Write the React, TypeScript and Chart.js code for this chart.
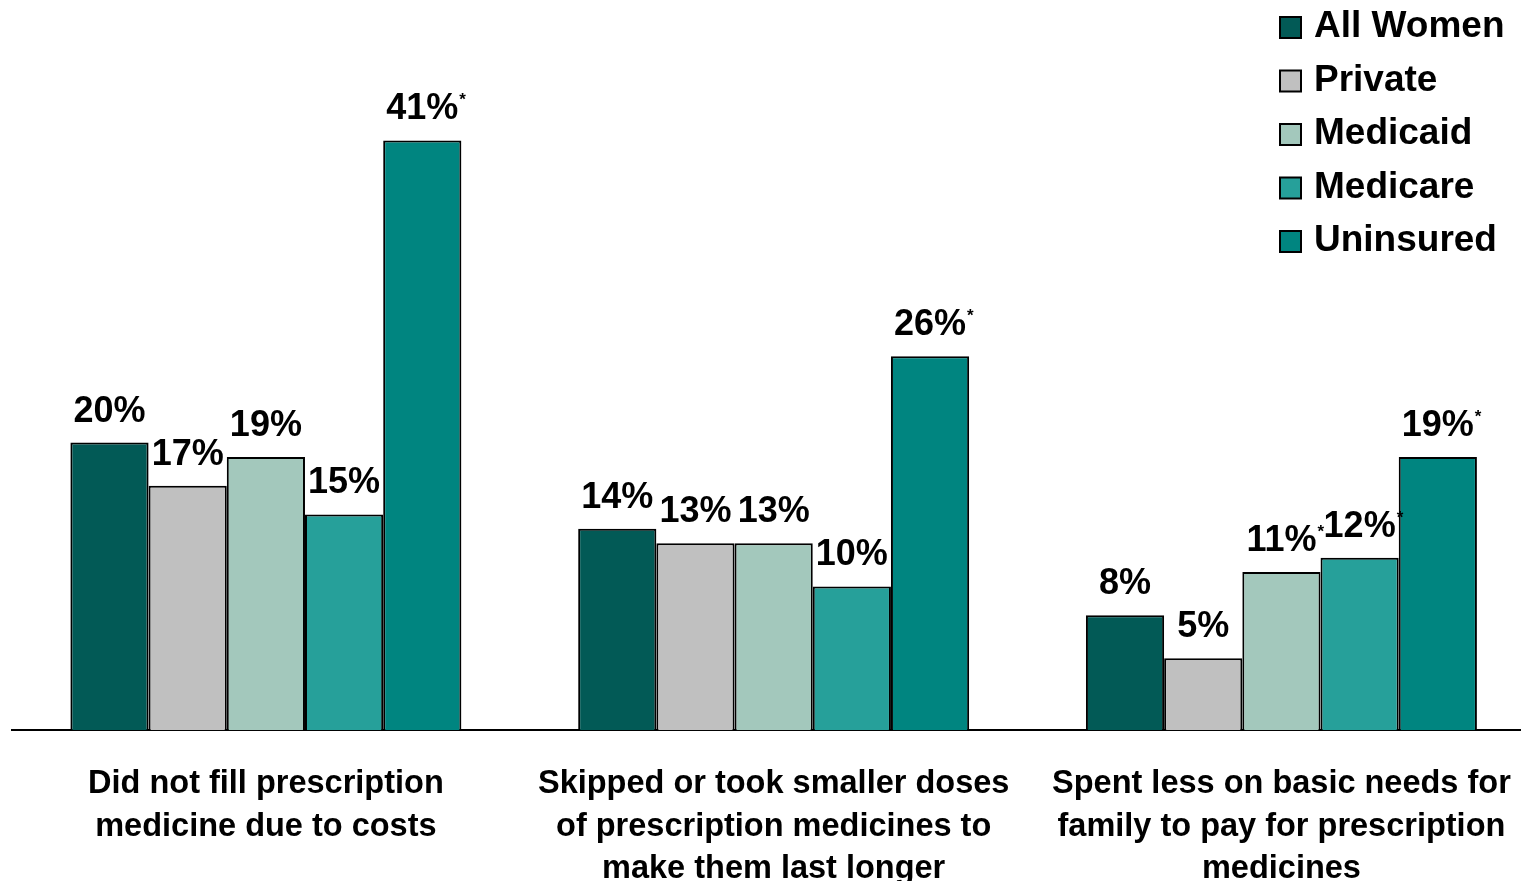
import React, { useEffect, useRef } from "react";
import { Chart, registerables } from "chart.js";

Chart.register(...registerables);

const categories: string[][] = [
  ["Did not fill prescription", "medicine due to costs"],
  ["Skipped or took smaller doses", "of prescription medicines to", "make them last longer"],
  ["Spent less on basic needs for", "family to pay for prescription", "medicines"],
];
const seriesNames = ["All Women", "Private", "Medicaid", "Medicare", "Uninsured"];
const allWomen = [20, 14, 8];
const privateIns = [17, 13, 5];
const medicaid = [19, 13, 11];
const medicare = [15, 10, 12];
const uninsured = [41, 26, 19];
const allWomenSig = [false, false, false];
const privateSig = [false, false, false];
const medicaidSig = [false, false, true];
const medicareSig = [false, false, true];
const uninsuredSig = [true, true, true];
const seriesColors = ["#025A56", "#C0C0C0", "#A3C8BC", "#26A09A", "#008580"];

const seriesValues = [allWomen, privateIns, medicaid, medicare, uninsured];
const seriesSig = [allWomenSig, privateSig, medicaidSig, medicareSig, uninsuredSig];

const FONT = '"Liberation Sans", Arial, sans-serif';

const valueLabelPlugin = {
  id: "valueLabels",
  afterDatasetsDraw(chart: any) {
    const ctx = chart.ctx;
    ctx.save();
    chart.data.datasets.forEach((ds: any, di: number) => {
      const meta = chart.getDatasetMeta(di);
      meta.data.forEach((el: any, i: number) => {
        const text = ds.data[i] + "%";
        ctx.font = `bold 36px ${FONT}`;
        ctx.fillStyle = "#000";
        ctx.textAlign = "center";
        ctx.textBaseline = "alphabetic";
        const by = el.y - 21;
        ctx.fillText(text, el.x, by);
        if (seriesSig[di][i]) {
          const w = ctx.measureText(text).width;
          ctx.font = `bold 17px ${FONT}`;
          ctx.textAlign = "left";
          ctx.fillText("*", el.x + w / 2 + 1, by - 14);
        }
      });
    });
    ctx.restore();
  },
};

const legendPlugin = {
  id: "customLegend",
  afterDraw(chart: any) {
    const ctx = chart.ctx;
    ctx.save();
    chart.data.datasets.forEach((ds: any, di: number) => {
      const cy = 27 + 53.5 * di;
      ctx.fillStyle = ds.backgroundColor;
      ctx.fillRect(1280, cy - 10, 21, 21);
      ctx.lineWidth = 2;
      ctx.strokeStyle = "#000";
      ctx.strokeRect(1280, cy - 10, 21, 21);
      ctx.font = `bold 37px ${FONT}`;
      ctx.fillStyle = "#000";
      ctx.textAlign = "left";
      ctx.textBaseline = "middle";
      ctx.fillText(ds.label, 1314, cy);
    });
    ctx.restore();
  },
};

export default function App() {
  const canvasRef = useRef<HTMLCanvasElement | null>(null);

  useEffect(() => {
    document.body.style.overflow = "hidden";
    document.documentElement.style.overflow = "hidden";
    const canvas = canvasRef.current;
    if (!canvas) return;
    const chart = new Chart(canvas, {
      type: "bar",
      data: {
        labels: categories,
        datasets: seriesNames.map((name, i) => ({
          label: name,
          data: seriesValues[i],
          backgroundColor: seriesColors[i],
          borderColor: "#000",
          borderWidth: 2,
          categoryPercentage: 0.77,
          barPercentage: 1.0,
        })),
      },
      options: {
        responsive: false,
        animation: false,
        devicePixelRatio: 1,
        layout: { padding: { left: 12, right: 1.2, top: 11, bottom: 0 } },
        plugins: {
          legend: { display: false },
          tooltip: { enabled: false },
        },
        scales: {
          x: {
            grid: { display: false, drawTicks: false },
            border: { display: true, color: "#000", width: 2 },
            ticks: {
              color: "#000",
              font: { family: FONT, size: 32.5, weight: "bold", lineHeight: 1.3 },
              padding: 33,
              maxRotation: 0,
              autoSkip: false,
            },
          },
          y: {
            display: false,
            min: 0,
            max: 50,
          },
        },
      },
      plugins: [valueLabelPlugin, legendPlugin],
    });
    return () => chart.destroy();
  }, []);

  return (
    <div
      style={{
        position: "fixed",
        left: 0,
        top: 0,
        width: 1544,
        height: 923,
        overflow: "hidden",
        background: "#fff",
      }}
    >
      <canvas ref={canvasRef} width={1544} height={923} style={{ display: "block" }} />
    </div>
  );
}
